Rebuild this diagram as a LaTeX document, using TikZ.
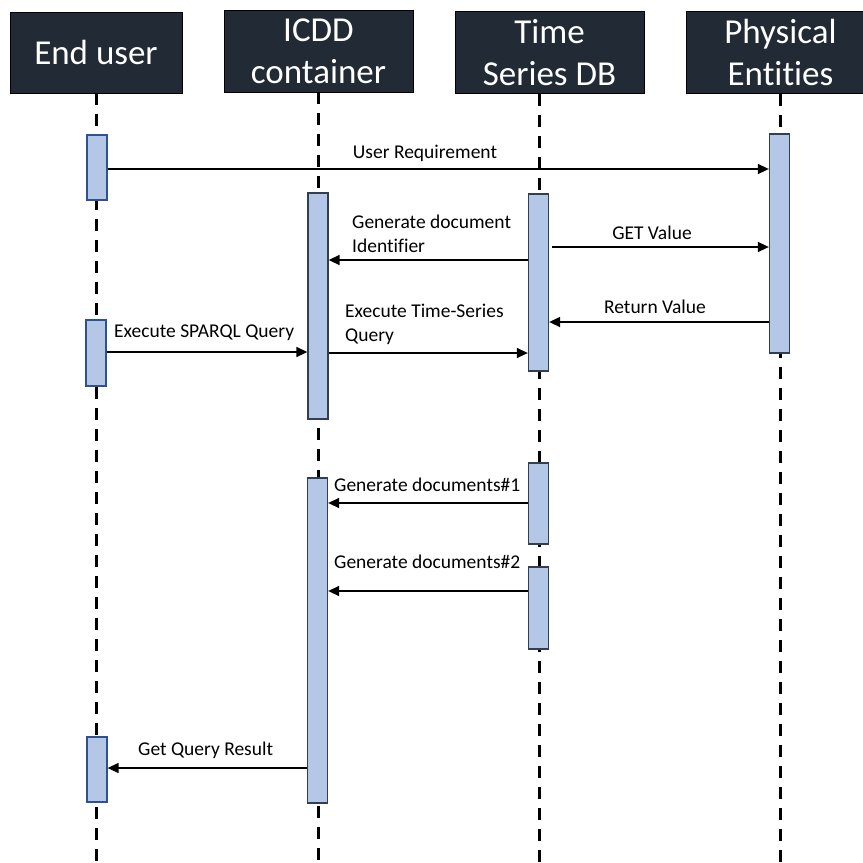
\documentclass[tikz,border=0pt]{standalone}
\usepackage{fontspec}
\setmainfont{Carlito}[Ligatures=NoCommon]
\usetikzlibrary{arrows.meta,calc}
\definecolor{hdr}{HTML}{222A35}
\definecolor{act}{HTML}{B4C7E7}
\definecolor{actblue}{HTML}{2F528F}
\definecolor{actdark}{HTML}{333F50}
\begin{document}
\begin{tikzpicture}[x=1pt,y=-1pt,
 hdrbox/.style={draw=black, line width=0.8pt, fill=hdr, text=white, font=\fontsize{35}{42}\selectfont, align=center, inner sep=0pt, minimum width=189pt, minimum height=82pt},
 life/.style={line width=3pt, dash pattern=on 12pt off 9pt},
 actbox/.style={draw=actdark, fill=act, line width=1.3pt, inner sep=0pt, minimum width=20pt},
 actboxb/.style={actbox, draw=actblue},
 msg/.style={line width=1.5pt, -{Triangle[length=11pt,width=10pt]}},
 lbl/.style={font=\fontsize{19.5}{24}\selectfont, inner sep=0pt, align=left}]
\useasboundingbox (0,0) rectangle (863,863);
% headers
\node[hdrbox, minimum width=172pt, minimum height=81pt] (eu) at (96,52.5) {End user};
\node[hdrbox] (ic) at (318.5,51) {ICDD\\container};
\node[hdrbox] (ts) at (549.5,52.5) {Time\\Series DB};
\node[hdrbox] (pe) at (780.5,52.5) {Physical\\Entities};
% lifelines
\draw[life] (eu.south) -- (96,870);
\draw[life] (ic.south -| 318,0) -- (318,870);
\draw[life] (ts.south -| 539,0) -- (539,870);
\draw[life] (pe.south -| 780,0) -- (780,870);
% activation boxes
\node[actboxb, minimum height=65pt] (eu1) at (97,167.5) {};
\node[actboxb, minimum height=66pt] (eu2) at (96,353) {};
\node[actboxb, minimum height=65pt] (eu3) at (97,769.5) {};
\node[actbox, minimum height=226pt] (ic1) at (318,306) {};
\node[actbox, minimum height=325pt] (ic2) at (317.5,640.5) {};
\node[actbox, minimum height=177pt] (ts1) at (538.5,282.5) {};
\node[actbox, minimum height=81pt] (ts2) at (538.5,503.5) {};
\node[actbox, minimum height=82pt] (ts3) at (538.5,608) {};
\node[actbox, minimum height=219pt] (pe1) at (779.5,243.5) {};
% messages
\draw[msg] (eu1.east |- 0,169) -- (pe1.west |- 0,169);
\node[lbl] (l1) at (425,153) {User Requirement};
\draw[msg] (ts1.west |- 0,260) -- (ic1.east |- 0,260);
\node[lbl, anchor=west] (l2) at (352,234) {Generate document\\Identifier};
\draw[msg] ($(ts1.east |- 0,247)+(3,0)$) -- (pe1.west |- 0,247);
\node[lbl] (l3) at (652,233) {GET Value};
\draw[msg] (pe1.west |- 0,322) -- (ts1.east |- 0,322);
\node[lbl] (l4) at (655,307) {Return Value};
\draw[msg] (ic1.east |- 0,353) -- (ts1.west |- 0,353);
\node[lbl, anchor=west] (l5) at (345,324) {Execute Time-Series\\Query};
\draw[msg] (eu2.east |- 0,352) -- (ic1.west |- 0,352);
\node[lbl, anchor=west] (l6) at (114,333) {Execute SPARQL Query};
\draw[msg] (ts2.west |- 0,503) -- (ic2.east |- 0,503);
\node[lbl, anchor=west] (l7) at (334,485) {Generate documents\#1};
\draw[msg] (ts3.west |- 0,591) -- (ic2.east |- 0,591);
\node[lbl, anchor=west] (l8) at (334,562) {Generate documents\#2};
\draw[msg] (ic2.west |- 0,768) -- (eu3.east |- 0,768);
\node[lbl, anchor=west] (l9) at (138,750) {Get Query Result};
\end{tikzpicture}
\end{document}
